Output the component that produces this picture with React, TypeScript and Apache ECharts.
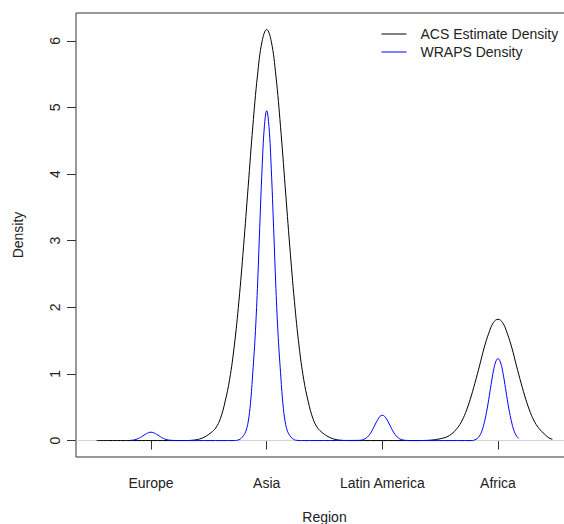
import React, { useEffect, useRef } from "react";
import * as echarts from "echarts";

const regionNames = ["Europe", "Asia", "Latin America", "Africa"];
const regionPositions = [1, 2, 3, 4];
const yTicks = [0, 1, 2, 3, 4, 5, 6];

const acsX = [
  0.53, 0.8, 1.1, 1.3, 1.36, 1.4, 1.44, 1.48, 1.52, 1.56, 1.6, 1.64, 1.68, 1.72, 1.76, 1.8, 1.84, 1.88, 1.92, 1.96,
  2.0, 2.04, 2.08, 2.12, 2.16, 2.2, 2.24, 2.28, 2.32, 2.36, 2.4, 2.44, 2.48, 2.52, 2.56, 2.6, 2.64, 2.7, 2.9, 3.1,
  3.3, 3.4, 3.44, 3.48, 3.52, 3.56, 3.6, 3.64, 3.68, 3.72, 3.76, 3.8, 3.84, 3.88, 3.92, 3.96, 4.0, 4.04, 4.08, 4.12,
  4.16, 4.2, 4.24, 4.28, 4.32, 4.36, 4.4, 4.44, 4.47,
];
const acsY = [
  0, 0, 0, 0, 0.005, 0.015, 0.035, 0.07, 0.12, 0.19, 0.33, 0.58, 0.92, 1.42, 2.09, 2.91, 3.81, 4.71, 5.47, 5.99,
  6.17, 5.99, 5.47, 4.71, 3.81, 2.91, 2.09, 1.42, 0.92, 0.58, 0.33, 0.19, 0.12, 0.07, 0.035, 0.015, 0.005, 0, 0, 0,
  0, 0.004, 0.01, 0.02, 0.035, 0.056, 0.1, 0.17, 0.27, 0.42, 0.62, 0.86, 1.12, 1.39, 1.61, 1.77, 1.82, 1.77, 1.61, 1.39,
  1.12, 0.86, 0.62, 0.42, 0.27, 0.17, 0.1, 0.04, 0.02,
];

const wrapsX = [
  0.82, 0.84, 0.86, 0.88, 0.9, 0.92, 0.94, 0.96, 0.98, 1.0, 1.02, 1.04, 1.06, 1.08, 1.1, 1.12, 1.14, 1.16, 1.18, 1.22,
  1.3, 1.72, 1.74, 1.76, 1.78, 1.8, 1.82, 1.84, 1.86, 1.88, 1.9, 1.92, 1.94, 1.96, 1.98, 2.0, 2.02, 2.04, 2.06, 2.08,
  2.1, 2.12, 2.14, 2.16, 2.18, 2.2, 2.22, 2.24, 2.26, 2.3, 2.8, 2.82, 2.84, 2.86, 2.88, 2.9, 2.92, 2.94, 2.96, 2.98,
  3.0, 3.02, 3.04, 3.06, 3.08, 3.1, 3.12, 3.14, 3.16, 3.18, 3.2, 3.3, 3.78, 3.8, 3.82, 3.84, 3.86, 3.88, 3.9, 3.92,
  3.94, 3.96, 3.98, 4.0, 4.02, 4.04, 4.06, 4.08, 4.1, 4.12, 4.14, 4.16, 4.18,
];
const wrapsY = [
  0.003, 0.006, 0.012, 0.023, 0.038, 0.059, 0.082, 0.103, 0.119, 0.125, 0.119, 0.103, 0.082, 0.059, 0.038, 0.023, 0.012, 0.006, 0.003, 0.001,
  0, 0, 0.003, 0.012, 0.035, 0.075, 0.14, 0.28, 0.56, 1.02, 1.55, 2.28, 3.2, 4.07, 4.71, 4.95, 4.71, 4.07, 3.2, 2.28,
  1.55, 1.02, 0.56, 0.28, 0.14, 0.075, 0.035, 0.012, 0.003, 0, 0.003, 0.008, 0.018, 0.037, 0.069, 0.116, 0.178, 0.248, 0.314, 0.363,
  0.38, 0.363, 0.314, 0.248, 0.178, 0.116, 0.069, 0.037, 0.018, 0.008, 0.003, 0, 0, 0.012, 0.03, 0.07, 0.14, 0.26, 0.42, 0.62,
  0.84, 1.04, 1.18, 1.23, 1.18, 1.04, 0.84, 0.62, 0.42, 0.26, 0.14, 0.07, 0.03,
];

const xMin = 0.3516;
const xMax = 4.6484;
const yMin = -0.2468;
const yMax = 6.417;
const zeroLineX = [xMin, xMax];
const zeroLineY = [0, 0];

const FONT = "'Liberation Sans', Arial, sans-serif";
const TXT = "#222";
const AX = "#333";

export default function App() {
  const ref = useRef<HTMLDivElement>(null);
  useEffect(() => {
    if (!ref.current) return;
    const chart = echarts.init(ref.current, null, { renderer: "svg" });
    const zip = (xs: number[], ys: number[]) => xs.map((x, i) => [x, ys[i]]);
    chart.setOption({
      animation: false,
      backgroundColor: "#fff",
      textStyle: { fontFamily: FONT },
      grid: {
        left: 76,
        top: 13,
        width: 497,
        height: 444,
        outerBoundsMode: "none",
        containLabel: false,
        show: true,
        borderColor: AX,
        borderWidth: 1,
        backgroundColor: "transparent",
      },
      legend: {
        data: ["ACS Estimate Density", "WRAPS Density"],
        orient: "vertical",
        left: 376,
        top: 22,
        itemWidth: 25,
        itemHeight: 14,
        itemGap: 4,
        itemStyle: { opacity: 0 },
        lineStyle: { width: 1 },
        textStyle: { fontFamily: FONT, fontSize: 14, color: TXT, padding: [0, 0, 0, 9] },
      },
      xAxis: {
        type: "value",
        min: xMin,
        max: xMax,
        name: "Region",
        nameLocation: "middle",
        nameGap: 53,
        nameTextStyle: { fontFamily: FONT, fontSize: 14, color: TXT },
        splitLine: { show: false },
        axisLine: { show: false },
        axisTick: {
          show: true,
          length: 9,
          customValues: regionPositions,
          lineStyle: { color: AX },
        },
        axisLabel: {
          customValues: regionPositions,
          margin: 19,
          fontFamily: FONT,
          fontSize: 14,
          color: TXT,
          formatter: (v: number) => regionNames[regionPositions.indexOf(Math.round(v))] ?? "",
        },
      },
      yAxis: {
        type: "value",
        min: yMin,
        max: yMax,
        name: "Density",
        nameLocation: "middle",
        nameRotate: 90,
        nameGap: 51,
        nameTextStyle: { fontFamily: FONT, fontSize: 14, color: TXT },
        splitLine: { show: false },
        axisLine: { show: false },
        axisTick: {
          show: true,
          length: 9,
          customValues: yTicks,
          lineStyle: { color: AX },
        },
        axisLabel: {
          customValues: yTicks,
          rotate: 90,
          align: "center",
          verticalAlign: "bottom",
          margin: 14,
          fontFamily: FONT,
          fontSize: 14,
          color: TXT,
          formatter: (v: number) => String(Math.round(v)),
        },
      },
      series: [
        {
          name: "zero",
          type: "line",
          data: zip(zeroLineX, zeroLineY),
          symbol: "none",
          silent: true,
          lineStyle: { color: "#d4d4d4", width: 1 },
          z: 1,
        },
        {
          name: "ACS Estimate Density",
          type: "line",
          data: zip(acsX, acsY),
          symbol: "none",
          smooth: 0.4,
          lineStyle: { color: "#000", width: 1 },
          itemStyle: { color: "#000" },
          z: 2,
        },
        {
          name: "WRAPS Density",
          type: "line",
          data: zip(wrapsX, wrapsY),
          symbol: "none",
          smooth: 0.4,
          lineStyle: { color: "#0000ff", width: 1 },
          itemStyle: { color: "#0000ff" },
          z: 3,
        },
      ],
    });
    return () => chart.dispose();
  }, []);
  return (
    <div
      ref={ref}
      style={{ position: "absolute", left: 0, top: 0, width: 564, height: 524 }}
    />
  );
}
